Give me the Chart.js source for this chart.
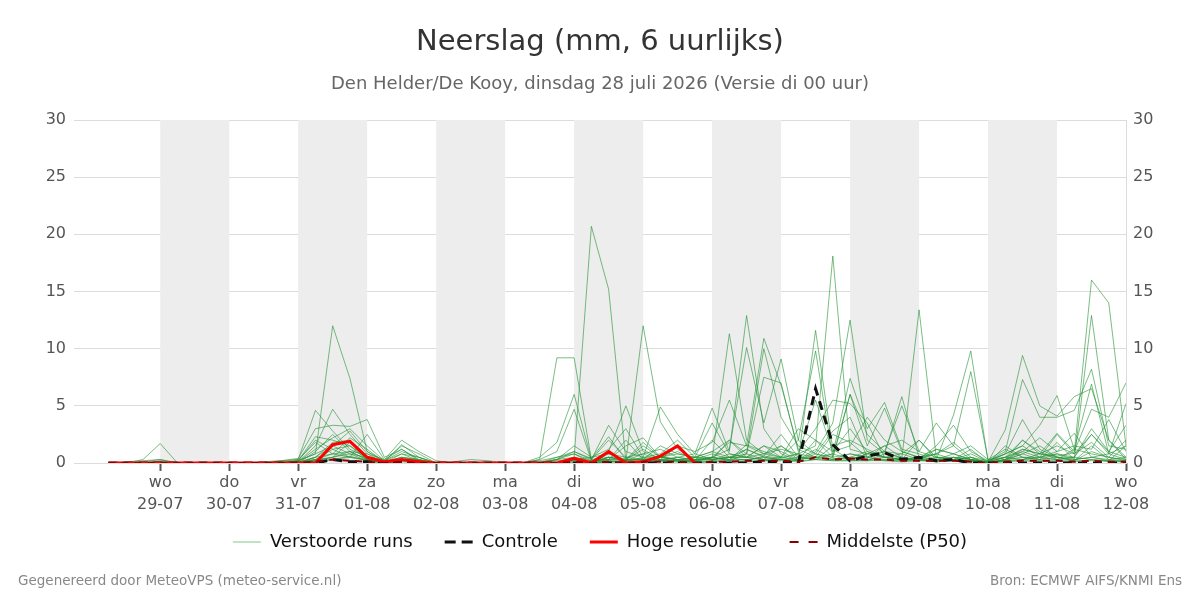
<!DOCTYPE html>
<html>
<head>
<meta charset="utf-8">
<script src="https://cdn.jsdelivr.net/npm/chart.js@4/dist/chart.umd.min.js"></script>
<style>
  body { margin: 0; background: #fff; }
  #wrap { width: 1200px; height: 600px; position: relative; }
</style>
</head>
<body>
<div id="wrap"><canvas id="chart"></canvas></div>
<script>
// tijdas: uren t.o.v. wo 29-07 00 uur, stap 6 uur (28-07 06 uur t/m 12-08 00 uur)
const startHour = -18;
const stepHours = 6;

const tickHours = [0, 24, 48, 72, 96, 120, 144, 168, 192, 216, 240, 264, 288, 312, 336];
const tickDays = ['wo', 'do', 'vr', 'za', 'zo', 'ma', 'di', 'wo', 'do', 'vr', 'za', 'zo', 'ma', 'di', 'wo'];
const tickDates = ['29-07', '30-07', '31-07', '01-08', '02-08', '03-08', '04-08', '05-08', '06-08', '07-08', '08-08', '09-08', '10-08', '11-08', '12-08'];
const shadedDays = [0, 2, 4, 6, 8, 10, 12];

// verstoorde runs (mm per 6 uur), per rij: 28-07 rest, dan per dag 4 waarden, laatste waarde 12-08
const m01 = [0,0,0.1, 0.3,0,0,0, 0,0,0,0, 0.2,0.8,12.0,7.4, 1.0,0.2,0.3,0.1, 0,0,0,0, 0,0,0,0.3, 0.5,20.7,15.2,0.2, 0.4,0.6,0.3,0.1, 0.5,0.3,1.2,0.6, 0.4,0.8,1.5,18.1, 1.2,0.8,0.5,0.3, 0.2,0.5,0.3,0.8, 0.1,0.3,1.2,0.8, 0.6,0.9,16.0,14.0, 1.5];
const m02 = [0,0,0.3, 1.7,0,0,0, 0,0,0,0.1, 0.3,4.6,2.8,1.2, 0.5,0.1,0.3,0.1, 0,0,0,0, 0,0,0.3,9.2, 9.2,0.3,0.5,0.2, 12.0,3.6,1.2,0.3, 0.4,11.3,2.0,0.8, 1.5,0.3,11.6,1.2, 0.3,0.8,1.0,0.4, 13.4,0.5,0.3,0.2, 0.1,0.8,3.8,1.2, 0.5,0.3,12.9,2.0, 0.3];
const m03 = [0,0,0, 0.2,0,0,0, 0,0,0,0, 0.1,1.5,4.7,2.5, 0.8,0.3,2.0,1.0, 0.2,0,0,0, 0,0,0.5,1.8, 6.0,0.3,3.3,1.0, 0.5,4.9,2.5,0.8, 4.8,1.0,12.9,3.0, 0.8,0.2,1.0,3.5, 12.5,2.0,0.8,5.8, 0.5,1.2,0.8,0.3, 0.1,2.9,9.4,5.0, 4.1,5.8,6.5,2.0, 0.5];
const m04 = [0,0,0, 0.1,0,0,0, 0,0,0.1,0.2, 0.4,3.0,3.3,3.2, 3.8,0.5,1.2,0.3, 0,0.1,0.3,0.2, 0,0,0.3,1.0, 4.7,0.2,1.0,5.0, 1.0,0.3,1.5,1.0, 1.8,5.5,1.5,10.9, 6.8,1.2,0.5,0.8, 7.4,3.0,5.3,1.2, 0.8,0.3,4.2,9.8, 0.2,1.0,7.3,4.0, 4.0,4.6,8.2,1.5, 1.2];
const m05 = [0,0,0, 0,0,0,0, 0,0,0,0, 0.2,2.3,2.0,1.5, 0.3,0.2,1.5,0.8, 0,0,0,0, 0,0,0.2,0.5, 1.0,0.4,2.3,0.3, 1.8,0.5,0.3,0.2, 0.5,1.2,10.1,3.5, 9.1,2.0,9.8,0.5, 6.0,1.5,4.8,1.0, 0.5,0.8,1.5,8.0, 0.3,0.5,1.2,0.8, 2.6,1.0,4.7,4.0, 7.0];
const m06 = [0,0,0, 0,0,0,0, 0,0,0,0.1, 0.1,1.2,2.2,3.0, 1.5,0.2,0.8,0.5, 0,0,0,0, 0,0,0,0.3, 1.5,0.5,0.8,0.3, 0.3,1.5,0.8,0.5, 1.0,0.5,0.8,7.5, 7.0,1.0,3.0,5.5, 5.2,3.5,0.5,0.3, 0.3,1.5,3.3,1.0, 0.2,0.8,1.5,3.3, 5.9,1.2,6.9,0.8, 5.2];
const m07 = [0,0,0, 0,0,0,0, 0,0,0,0, 0.2,0.8,1.5,2.8, 1.0,0.1,1.6,0.5, 0,0,0,0, 0,0,0.1,0.3, 1.0,0.3,2.0,0.5, 0.8,1.2,0.5,0.3, 0.3,2.0,0.8,10.0, 4.0,1.5,0.8,0.5, 6.0,2.5,1.0,5.0, 1.0,3.5,1.5,0.3, 0.1,0.5,2.0,0.8, 1.5,0.8,2.5,1.0, 3.3];
const m08 = [0,0,0, 0,0,0,0, 0,0,0,0, 0.1,0.5,1.8,2.0, 0.6,0.2,1.0,0.5, 0,0,0,0, 0,0,0,0.2, 0.3,0.5,1.2,3.0, 0.5,0.8,2.0,0.5, 0.5,1.8,1.5,0.8, 1.2,0.8,5.5,1.0, 1.5,4.0,2.0,1.0, 0.5,0.3,0.8,1.5, 0.3,1.2,0.5,0.5, 1.0,1.5,1.2,3.8, 1.0];
const m09 = [0,0.1,0.2, 0.3,0,0,0, 0,0,0,0, 0,1.0,2.5,1.0, 0.3,0.1,0.5,0.3, 0,0,0,0, 0,0,0,0, 0.5,0,0.5,0.3, 1.2,0.3,0.5,0.2, 2.0,0.5,0.5,1.5, 1.0,0.3,2.0,0.5, 0.8,0.5,1.5,2.0, 1.0,0.5,0.3,0.2, 0,0.3,1.0,0.5, 0.8,0.5,2.5,0.8, 0.3];
const m10 = [0,0,0, 0,0,0,0, 0,0,0,0, 0,0.3,1.2,1.5, 0.5,0,0.3,0.2, 0,0,0,0, 0,0,0,0, 0.3,0,0.2,0.1, 0.5,0.2,0.3,0, 0.2,0.8,0.5,0.3, 0.5,0.3,1.2,0.4, 0.3,0.2,0.8,0.5, 0.3,0.1,0.5,0.3, 0,0.2,0.8,0.3, 0.5,0.2,1.0,0.5, 0.2];
const m11 = [0,0,0, 0,0,0,0, 0,0,0,0.2, 0.3,1.8,0.8,0.5, 0.3,0,0.8,0.2, 0,0,0,0, 0,0,0,0.5, 0.8,0,0.3,0.2, 0.2,0.5,1.0,0.3, 0.8,0.3,1.6,1.0, 0.5,2.0,0.8,0.3, 0.5,1.0,0.5,0.3, 2.0,0.3,0.2,0.5, 0,1.5,0.5,0.3, 1.8,0.3,0.5,0.2, 1.5];
const m12 = [0,0,0, 0.1,0,0,0, 0,0,0,0, 0,0.5,0.8,2.2, 1.2,0.1,0.5,0.3, 0,0,0,0, 0,0,0,0, 0.2,0,0.8,0.5, 0.3,0.2,0.5,0.8, 0.3,0.5,0.2,0.6, 2.5,0.5,0.3,1.5, 2.0,1.2,0.5,0.3, 0.5,0.8,0.3,1.2, 0,0.3,2.0,1.0, 0.3,1.2,0.8,0.5, 0.3];
const m13 = [0,0,0, 0,0,0,0, 0,0,0,0, 0,0.2,0.5,0.8, 0.5,0,0.2,0.1, 0,0,0,0, 0,0,0,0, 0.1,0,0.2,0, 0.1,0.3,0.2,0.1, 0.2,0.3,0.3,0.5, 0.3,0.3,0.5,0.3, 0.8,0.5,0.3,0.2, 0.3,0.2,0.3,0.2, 0,0.2,0.3,0.2, 0.3,0.5,0.3,0.2, 0.1];
const m14 = [0,0,0, 0,0,0,0, 0,0,0,0, 0.1,0.3,0.8,1.0, 0.3,0,0.3,0.2, 0,0,0,0, 0,0,0,0, 0.3,0.1,0.5,0.2, 0.8,0.2,0.1,0.2, 0.5,0.2,0.8,0.3, 0.3,0.5,0.3,0.8, 0.3,0.8,1.5,0.5, 0.2,1.2,0.8,0.3, 0.1,0.5,0.3,0.8, 0.5,0.2,1.5,0.3, 0.5];
const m15 = [0,0,0, 0,0,0,0, 0,0,0,0, 0,0.1,0.3,0.5, 0.2,0,0.1,0, 0,0,0,0, 0,0,0,0, 0,0,0.1,0, 0.2,0.1,0.1,0, 0.1,0.2,0.1,0.2, 0.2,0.1,0.3,0.2, 0.2,0.3,0.2,0.1, 0.2,0.1,0.2,0.1, 0,0.1,0.2,0.1, 0.2,0.1,0.3,0.1, 0.1];
const m16 = [0,0,0, 0,0,0,0, 0,0,0,0, 0.2,2.0,1.2,0.5, 2.5,0.3,1.2,0.2, 0,0,0,0, 0,0,0,0, 0.5,0.2,0.3,2.0, 0.3,0.5,0.8,0.5, 1.0,2.0,0.5,0.3, 1.5,0.5,0.5,2.5, 1.8,0.5,1.0,0.8, 0.3,0.8,1.8,0.5, 0.2,0.8,1.5,0.5, 2.5,0.8,1.8,0.5, 2.0];
const m17 = [0,0,0, 0,0,0,0, 0,0,0,0, 0.1,0.2,0.5,1.8, 0.3,0,0.3,0.1, 0,0,0,0, 0,0,0,0, 0.2,0.2,0.3,0.3, 0.3,0.3,0.2,0.5, 0.3,0.5,0.5,0.8, 0.5,0.8,0.5,0.3, 0.5,0.3,0.5,0.3, 0.3,0.2,0.5,0.3, 0,0.3,0.5,0.3, 0.8,0.3,0.5,0.3, 0.2];
const m18 = [0,0,0, 0,0,0,0, 0,0,0,0, 0,0.5,1.5,0.8, 0.2,0,0.5,0.2, 0,0,0,0, 0,0,0,0.3, 0.8,0.2,0.3,1.5, 2.2,0.5,0.3,0.5, 3.5,0.8,0.5,1.5, 0.5,3.0,2.0,1.0, 3.0,1.0,0.5,0.8, 2.0,0.5,0.5,0.3, 0.1,0.5,1.0,2.2, 1.0,2.6,0.5,0.8, 1.5];
const m19 = [0,0,0, 0,0,0,0, 0,0,0,0, 0,0.3,0.5,1.0, 0.8,0,0.2,0.1, 0,0,0,0, 0,0,0,0, 0,0,0.5,0.3, 1.5,0.5,0.3,0.2, 0.3,0.5,1.2,0.5, 0.3,0.2,0.8,2.8, 4.0,0.5,0.2,0.3, 0.5,0.3,0.3,0.5, 0,0.3,0.8,1.5, 0.5,0.5,3.0,1.0, 0.5];
const m20 = [0,0,0, 0,0,0,0, 0,0,0,0, 0,0.2,0.3,0.6, 0.2,0,0.2,0.1, 0,0,0,0, 0,0,0,0, 0.3,0,0.1,0.2, 0.1,0.2,0.2,0.3, 0.5,0.2,0.3,0.2, 0.3,0.2,0.3,0.2, 0.2,0.2,0.3,0.5, 0.2,0.3,0.2,0.2, 0,0.2,0.3,0.5, 0.3,0.2,0.2,0.2, 0.2];
const memberRuns = [m01, m02, m03, m04, m05, m06, m07, m08, m09, m10, m11, m12, m13, m14, m15, m16, m17, m18, m19, m20];

const controle = [0,0,0, 0,0,0,0, 0,0,0,0, 0,0,0.3,0.1, 0.1,0,0.1,0, 0,0,0,0, 0,0,0,0, 0,0,0,0, 0,0,0,0, 0,0,0,0.1, 0.1,0,6.5,1.6, 0.2,0.6,0.9,0.3, 0.5,0.2,0.3,0, 0,0,0,0, 0,0,0,0, 0];
const hogeResolutie = [0,0,0, 0,0,0,0, 0,0,0,0, 0,0,1.6,1.9, 0.5,0.1,0.3,0.1, 0,0,0,0, 0,0,0,0, 0.4,0,1.0,0, 0.1,0.6,1.5,0];
const middelste = [0,0,0, 0,0,0,0, 0,0,0,0, 0,0.1,0.3,0.2, 0.1,0,0.1,0, 0,0,0,0, 0,0,0,0, 0.1,0,0.1,0, 0.1,0.1,0.1,0, 0.1,0.1,0.2,0.2, 0.2,0.1,0.5,0.3, 0.4,0.3,0.3,0.2, 0.2,0.2,0.2,0.1, 0,0.1,0.2,0.2, 0.2,0.1,0.2,0.1, 0.1];

const memberColor = 'rgba(34, 145, 50, 0.6)';
const font = 'DejaVu Sans';

function toPoints(values) {
  return values.map((v, i) => ({ x: startHour + i * stepHours, y: v }));
}

const datasets = memberRuns.map((run, i) => ({
  label: 'run ' + (i + 1),
  data: toPoints(run),
  borderColor: memberColor,
  borderWidth: 1,
  pointRadius: 0,
  order: 10
}));
datasets.push({ label: 'Controle', data: toPoints(controle), borderColor: '#111', borderWidth: 3, borderDash: [9, 6], pointRadius: 0, order: 3 });
datasets.push({ label: 'Hoge resolutie', data: toPoints(hogeResolutie), borderColor: '#ff0000', borderWidth: 3, pointRadius: 0, order: 2 });
datasets.push({ label: 'Middelste (P50)', data: toPoints(middelste), borderColor: '#8b0000', borderWidth: 2, borderDash: [7, 6], pointRadius: 0, order: 1 });

const legendItems = [
  { text: 'Verstoorde runs', strokeStyle: 'rgba(34, 145, 50, 0.55)', lineWidth: 1, lineDash: [] },
  { text: 'Controle', strokeStyle: '#111', lineWidth: 3, lineDash: [11, 6] },
  { text: 'Hoge resolutie', strokeStyle: '#ff0000', lineWidth: 3, lineDash: [] },
  { text: 'Middelste (P50)', strokeStyle: '#8b0000', lineWidth: 2, lineDash: [9, 10] }
];

// grijze banden voor afwisselende dagen
const dayBands = {
  id: 'dayBands',
  beforeDatasetsDraw(chart) {
    const { ctx, chartArea, scales } = chart;
    ctx.save();
    ctx.fillStyle = '#ededed';
    shadedDays.forEach(d => {
      const x1 = scales.x.getPixelForValue(d * 24);
      const x2 = scales.x.getPixelForValue((d + 1) * 24);
      ctx.fillRect(x1, chartArea.top, x2 - x1, chartArea.bottom - chartArea.top);
    });
    ctx.restore();
  }
};

// legenda iets dichter onder de as
const legendShift = {
  id: 'legendShift',
  afterLayout(chart) {
    if (chart.legend) {
      chart.legend.top -= 9;
      chart.legend.bottom -= 9;
    }
  }
};

// titel, ondertitel en voetregels
const texts = {
  id: 'texts',
  afterDraw(chart) {
    const ctx = chart.ctx;
    ctx.save();
    ctx.textBaseline = 'middle';
    ctx.textAlign = 'center';
    ctx.fillStyle = '#333';
    ctx.font = '29px "' + font + '"';
    ctx.fillText('Neerslag (mm, 6 uurlijks)', 600, 42);
    ctx.fillStyle = '#666';
    ctx.font = '18px "' + font + '"';
    ctx.fillText('Den Helder/De Kooy, dinsdag 28 juli 2026 (Versie di 00 uur)', 600, 84);
    ctx.fillStyle = '#888';
    ctx.font = '13.5px "' + font + '"';
    ctx.textAlign = 'left';
    ctx.fillText('Gegenereerd door MeteoVPS (meteo-service.nl)', 18, 581);
    ctx.textAlign = 'right';
    ctx.fillText('Bron: ECMWF AIFS/KNMI Ens', 1182, 581);
    ctx.restore();
  }
};

new Chart(document.getElementById('chart'), {
  type: 'line',
  data: { datasets },
  plugins: [dayBands, legendShift, texts],
  options: {
    responsive: true,
    maintainAspectRatio: false,
    animation: false,
    layout: { padding: { top: 120, bottom: 30, left: 0, right: 0 } },
    elements: { line: { tension: 0 } },
    plugins: {
      title: { display: false },
      tooltip: { enabled: false },
      legend: {
        display: true,
        position: 'bottom',
        labels: {
          usePointStyle: true,
          pointStyle: 'line',
          pointStyleWidth: 28,
          boxHeight: 10,
          padding: 32,
          color: '#111',
          font: { family: font, size: 18 },
          generateLabels: () => legendItems.map(it => ({
            text: it.text,
            strokeStyle: it.strokeStyle,
            fillStyle: it.strokeStyle,
            lineWidth: it.lineWidth,
            lineDash: it.lineDash,
            pointStyle: 'line',
            fontColor: '#111'
          }))
        }
      }
    },
    scales: {
      x: {
        type: 'linear',
        min: -30,
        max: 336,
        afterBuildTicks: s => { s.ticks = tickHours.map(v => ({ value: v })); },
        afterFit: s => { s.height = 47; },
        grid: { drawOnChartArea: false, drawTicks: true, tickLength: 8, color: '#555', tickWidth: 2 },
        border: { display: false },
        ticks: {
          autoSkip: false,
          maxRotation: 0,
          padding: 1,
          color: '#555',
          font: { family: font, size: 16, lineHeight: 1.35 },
          callback: v => {
            const i = tickHours.indexOf(v);
            return i >= 0 ? [tickDays[i], tickDates[i]] : '';
          }
        }
      },
      y: {
        position: 'left',
        min: 0,
        max: 30,
        afterFit: s => { s.width = 74; },
        grid: { color: '#dcdcdc', drawTicks: false },
        border: { display: false },
        ticks: { stepSize: 5, padding: 8, color: '#555', font: { family: font, size: 16 } }
      },
      y2: {
        position: 'right',
        min: 0,
        max: 30,
        afterFit: s => { s.width = 74; },
        grid: { display: false, drawTicks: false },
        border: { display: true, color: '#dcdcdc' },
        ticks: { stepSize: 5, padding: 7, color: '#555', font: { family: font, size: 16 } }
      }
    }
  }
});
</script>
</body>
</html>
